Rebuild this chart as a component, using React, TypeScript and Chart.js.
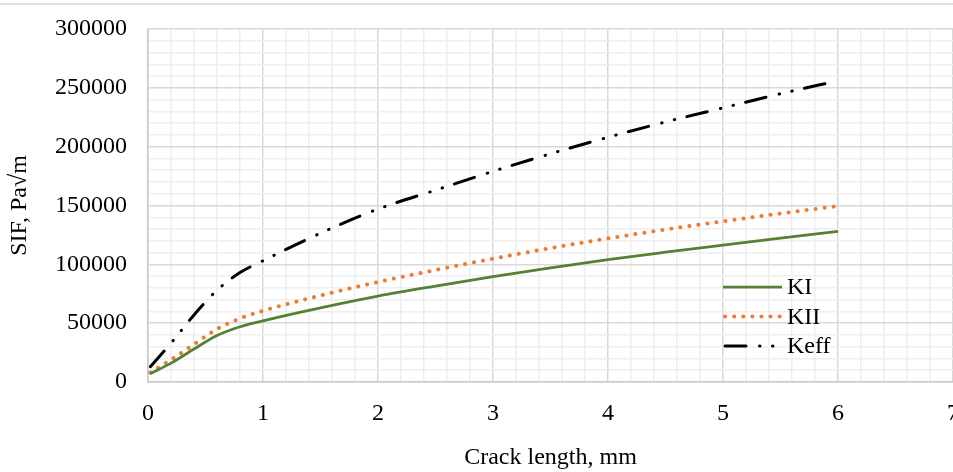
import React, { useEffect, useRef } from "react";
import { Chart, registerables } from "chart.js";

Chart.register(...registerables);

const crackLength = [0.02, 0.2, 0.4, 0.6, 0.8, 1, 1.5, 2, 2.5, 3, 3.5, 4, 4.5, 5, 5.5, 6];
const kI = [7000, 16000, 28000, 39500, 47000, 52000, 63000, 73000, 81500, 89500, 97000, 104000, 110300, 116300, 122200, 128000];
const kII = [8000, 19000, 32000, 45000, 54000, 60500, 73500, 85000, 95200, 104800, 113800, 122000, 129600, 136500, 143200, 149500];
const kEff = [13000, 33000, 57000, 78000, 93000, 103000, 126500, 147000, 163000, 179000, 194000, 208000, 221000, 233000, 245000, 256000];
const seriesNames = ["KI", "KII", "Keff"];
const xTitle = "Crack length, mm";
const yTitle = "SIF, Pa√m";

const FONT = "'Liberation Serif', 'Times New Roman', serif";
const FS = 24;
const MAJOR = "#d9d9d9";
const MINOR = "#eeeeee";

const toPts = (ys: number[]) => crackLength.map((x, i) => ({ x, y: ys[i] }));

const framePlugin = {
  id: "frame",
  beforeDraw(chart: any) {
    const { ctx, width, height } = chart;
    ctx.save();
    ctx.fillStyle = "#ffffff";
    ctx.fillRect(0, 0, width, height);
    ctx.strokeStyle = MAJOR;
    ctx.lineWidth = 1.5;
    ctx.beginPath();
    ctx.moveTo(0, 4);
    ctx.lineTo(width, 4);
    ctx.stroke();
    ctx.restore();
  },
};

const legendPlugin = {
  id: "customLegend",
  afterDatasetsDraw(chart: any) {
    const { ctx, chartArea } = chart;
    const x0 = chartArea.left + 575;
    const x1 = x0 + 59;
    const tx = x1 + 5;
    const y0 = chartArea.top + 258;
    const dy = 29.5;
    ctx.save();
    chart.data.datasets.forEach((ds: any, i: number) => {
      const y = y0 + i * dy;
      ctx.strokeStyle = ds.borderColor;
      ctx.lineWidth = ds.borderWidth;
      ctx.lineCap = ds.borderCapStyle || "butt";
      ctx.setLineDash(ds.borderDash || []);
      ctx.beginPath();
      ctx.moveTo(x0 + (ds.borderCapStyle === "round" ? 2 : 0), y);
      ctx.lineTo(x1, y);
      ctx.stroke();
      ctx.setLineDash([]);
      ctx.fillStyle = "#000";
      ctx.font = `${FS}px ${FONT}`;
      ctx.textBaseline = "middle";
      ctx.textAlign = "left";
      ctx.fillText(ds.label, tx, y + 1);
    });
    ctx.restore();
  },
};

const isMult = (v: number, step: number) => Math.abs(v / step - Math.round(v / step)) < 1e-6;

export default function App() {
  const ref = useRef<HTMLCanvasElement>(null);
  useEffect(() => {
    document.body.style.margin = "0";
    document.body.style.overflow = "hidden";
    const chart = new Chart(ref.current!, {
      type: "line",
      data: {
        datasets: [
          {
            label: seriesNames[0],
            data: toPts(kI),
            borderColor: "#548235",
            borderWidth: 2.75,
            pointRadius: 0,
            cubicInterpolationMode: "monotone",
            fill: false,
          },
          {
            label: seriesNames[1],
            data: toPts(kII),
            borderColor: "#ED7D31",
            borderWidth: 4,
            borderDash: [0.1, 9],
            borderCapStyle: "round",
            pointRadius: 0,
            cubicInterpolationMode: "monotone",
            fill: false,
          },
          {
            label: seriesNames[2],
            data: toPts(kEff),
            borderColor: "#000000",
            borderWidth: 3,
            borderDash: [21, 13.5, 0.5, 12.5, 0.5, 12.5],
            borderCapStyle: "round",
            pointRadius: 0,
            cubicInterpolationMode: "monotone",
            fill: false,
          },
        ] as any,
      },
      options: {
        animation: false,
        responsive: false,
        maintainAspectRatio: false,
        layout: { padding: { left: 0, top: 29, right: 47, bottom: 0 } },
        plugins: { legend: { display: false }, tooltip: { enabled: false } },
        scales: {
          x: {
            type: "linear",
            min: 0,
            max: 7,
            afterFit: (s: any) => {
              s.height = 90;
            },
            ticks: {
              stepSize: 0.2,
              autoSkip: false,
              maxRotation: 0,
              padding: 17,
              color: "#000",
              font: { family: FONT, size: FS },
              callback: (v: any) => (isMult(Number(v), 1) ? String(Math.round(Number(v))) : ""),
            },
            grid: {
              drawTicks: false,
              lineWidth: 1.5,
              color: (c: any) => (c.tick && isMult(c.tick.value, 1) ? MAJOR : MINOR),
            },
            border: { display: true, color: "#c8c8c8", width: 1.5 },
            title: {
              display: true,
              text: xTitle,
              color: "#000",
              font: { family: FONT, size: FS },
              padding: { top: 0, bottom: 0 },
            },
          },
          y: {
            min: 0,
            max: 300000,
            afterFit: (s: any) => {
              s.width = 148;
              s.paddingTop = 0;
              s.paddingBottom = 0;
            },
            ticks: {
              stepSize: 10000,
              autoSkip: false,
              padding: 21,
              color: "#000",
              font: { family: FONT, size: FS },
              callback: (v: any) => (isMult(Number(v), 50000) ? String(v) : ""),
            },
            grid: {
              drawTicks: false,
              lineWidth: 1.5,
              color: (c: any) => (c.tick && isMult(c.tick.value, 50000) ? MAJOR : MINOR),
            },
            border: { display: true, color: "#c8c8c8", width: 1.5 },
            title: {
              display: true,
              text: yTitle,
              color: "#000",
              font: { family: FONT, size: FS },
              padding: { top: 5, bottom: 0 },
            },
          },
        },
      },
      plugins: [framePlugin, legendPlugin],
    });
    return () => chart.destroy();
  }, []);
  return (
    <div style={{ width: 953, height: 472, overflow: "hidden", position: "relative" }}>
      <canvas ref={ref} width={1000} height={472} style={{ position: "absolute", left: 0, top: 0, width: 1000, height: 472 }} />
    </div>
  );
}
